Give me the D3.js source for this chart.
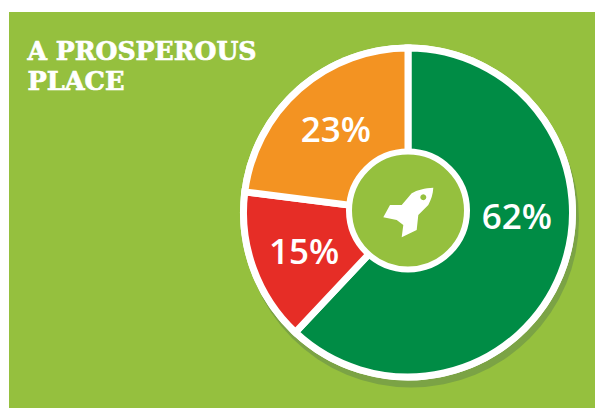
<!DOCTYPE html>
<html><head><meta charset="utf-8">
<script src="https://cdn.jsdelivr.net/npm/d3@7"></script>
<style>html,body{margin:0;background:#fff}svg{display:block}</style></head>
<body><svg id="c" width="595" height="408"></svg>
<script>
const categories = ["Green","Red","Orange"];
const seriesValues = [62,15,23];
const valueLabels = ["62%","15%","23%"];
const sliceColours = ["#008c45","#e62d26","#f39322"];
const titleLines = ["A PROSPEROUS","PLACE"];

const svg = d3.select("#c");
svg.append("rect").attr("x",9).attr("y",12).attr("width",586).attr("height",396).attr("fill","#95c03e");
const t = svg.append("text").attr("fill","#fff").attr("font-family","'DejaVu Serif','Liberation Serif',serif").attr("font-weight",700).attr("font-size",25.7).attr("stroke","#fff").attr("stroke-width",0.7);
titleLines.forEach((l,i)=>t.append("tspan").attr("x",27.5).attr("y",60+i*30).text(l).attr("textLength",i==0?229:97).attr("lengthAdjust","spacingAndGlyphs"));

const cx=408, cy=212.5, R=168, strokeW=7, hubY=210.5, hubR=59;
svg.append("circle").attr("cx",cx+3).attr("cy",cy+7).attr("r",R).attr("fill","#7ba345");
svg.append("circle").attr("cx",cx).attr("cy",cy).attr("r",R).attr("fill","#fff");
const pie=d3.pie().sort(null).value(d=>d);
const arc=d3.arc().innerRadius(hubR-10).outerRadius(R-strokeW/2);
const g=svg.append("g").attr("transform",`translate(${cx},${cy})`);
g.selectAll("path").data(pie(seriesValues)).join("path")
 .attr("d",arc).attr("fill",(d,i)=>sliceColours[i]).attr("stroke","#fff").attr("stroke-width",strokeW);
const labelPolar=[[92,109],[249.5,111],[319,110]];
g.selectAll("text").data(pie(seriesValues)).join("text")
 .attr("transform",(d,i)=>{const [a,r]=labelPolar[i],th=a*Math.PI/180;return `translate(${r*Math.sin(th)},${-r*Math.cos(th)})`;})
 .attr("text-anchor","middle").attr("dy","0.36em")
 .attr("fill","#fff").attr("font-family","'Open Sans',sans-serif").attr("font-weight",600).attr("font-size",35)
 .text((d,i)=>valueLabels[i]);
svg.append("circle").attr("cx",cx).attr("cy",hubY).attr("r",hubR).attr("fill","#95c03e").attr("stroke","#fff").attr("stroke-width",6);
svg.append("path").attr("transform",`translate(${cx},${hubY-0.5})`).attr("fill","#fff").attr("fill-rule","evenodd")
 .attr("d","M25.3,-22.3 C17,-22 9,-20 3.7,-16.7 L-6.3,-5 L-18,-5 L-24.7,7.3 L-11.3,10 L-4.7,15 L-6.3,27.3 L8.7,20 L10.3,5 L20.3,-5 C23,-10 25,-16 25.3,-22.3 Z M15.3,-15.7 a3,3 0 1,0 0.01,0 Z");
</script></body></html>
